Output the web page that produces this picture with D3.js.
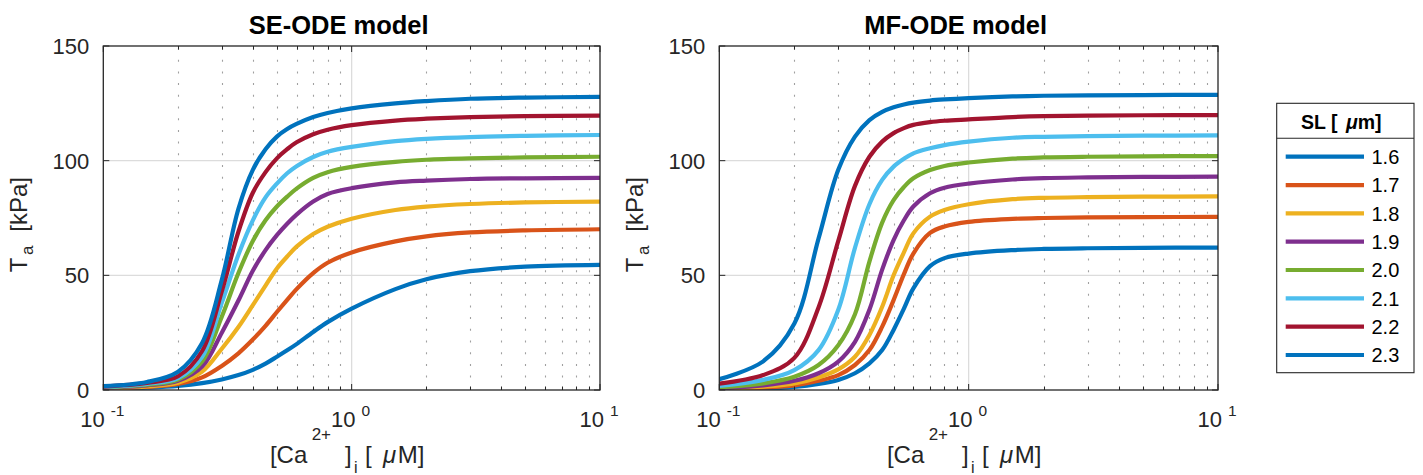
<!DOCTYPE html>
<html>
<head>
<meta charset="utf-8">
<script src="https://cdn.jsdelivr.net/npm/d3@7"></script>
<style>
  html, body { margin: 0; padding: 0; background: #fff; }
  svg { display: block; font-family: "Liberation Sans", Arial, Helvetica, sans-serif; }
</style>
</head>
<body>
<svg id="chart" width="1423" height="475"></svg>
<script>
// ---------- data ----------
const caValues = [0.1, 0.15, 0.2, 0.25, 0.3, 0.35, 0.4, 0.45, 0.5, 0.55, 0.6, 0.7, 0.8, 1, 1.5, 2, 3, 5, 10];
const slLabels = ["1.6", "1.7", "1.8", "1.9", "2.0", "2.1", "2.2", "2.3"];
const seriesColors = ["#0072BD", "#D95319", "#EDB120", "#7E2F8E", "#77AC30", "#4DBEEE", "#A2142F", "#0072BD"];
const panelTitles = ["SE-ODE model", "MF-ODE model"];
const yTicks = [0, 50, 100, 150];
const xMajorTicks = [0.1, 1, 10];
const xTickExponents = ["-1", "0", "1"];
const xMinorTicks = [0.2, 0.3, 0.4, 0.5, 0.6, 0.7, 0.8, 0.9, 2, 3, 4, 5, 6, 7, 8, 9];

// SE-ODE model, Ta [kPa] for each SL
const se16 = [0.3, 1.0, 1.8, 3.0, 4.6, 6.5, 8.8, 11.5, 14.5, 17.3, 20, 25.3, 29.6, 35.5, 44, 48.3, 51.8, 53.8, 54.6];
const se17 = [0.5, 1.3, 2.6, 5.5, 10.5, 16, 22, 28, 34, 39.3, 44, 51, 55.5, 60, 64.8, 67, 68.7, 69.6, 70.1];
const se18 = [0.7, 1.6, 3.2, 8, 18, 27.5, 37, 45.5, 53, 58.2, 62.5, 68, 71.2, 74.7, 78.5, 80, 81.1, 81.8, 82.1];
const se19 = [0.9, 2, 4, 10.2, 25, 39, 52, 61, 67.5, 72.5, 76.5, 82.2, 85.5, 88, 90.5, 91.3, 92, 92.3, 92.5];
const se20 = [1.1, 2.3, 4.6, 12.5, 32, 51, 65, 74, 80, 84.3, 87.8, 92.5, 95, 97.3, 99.5, 100.4, 101, 101.4, 101.7];
const se21 = [1.3, 2.7, 5.2, 14.5, 38, 59, 74, 84, 90, 94.5, 97.6, 101.6, 103.9, 106, 108.5, 109.5, 110.3, 110.8, 111.2];
const se22 = [1.5, 3.1, 6, 17, 43, 69, 86, 95, 101, 105, 108, 111.5, 113.5, 115.5, 117.5, 118.3, 119, 119.4, 119.6];
const se23 = [1.7, 3.5, 8, 20.5, 48, 79, 96, 105, 110.5, 113.8, 116, 119, 120.8, 122.8, 125, 126, 127, 127.5, 127.8];

// MF-ODE model, Ta [kPa] for each SL
const mf16 = [0.2, 0.6, 1.3, 2.6, 4.4, 7.3, 11.6, 17.4, 26.2, 35.5, 44.3, 54, 57.5, 59.5, 61, 61.5, 61.8, 62, 62.1];
const mf17 = [0.3, 1, 2, 4, 6.5, 10.9, 17.4, 27.6, 39.2, 50.5, 59.5, 68.5, 71.3, 73.3, 74.6, 75, 75.3, 75.4, 75.5];
const mf18 = [0.4, 1.5, 2.9, 5.5, 9, 14.5, 24, 36.3, 50, 60, 68.3, 75.6, 78.5, 81, 83.2, 83.8, 84.1, 84.3, 84.4];
const mf19 = [0.7, 2, 4, 7.3, 12.4, 21, 35, 52.5, 65.4, 74, 80, 85.8, 88.2, 90, 91.8, 92.4, 92.7, 92.9, 93];
const mf20 = [1.2, 2.9, 5.8, 10.9, 19.5, 33, 56, 73, 82.8, 88.5, 92.3, 95.9, 97.7, 99.2, 100.9, 101.4, 101.7, 101.9, 102];
const mf21 = [1.8, 4.4, 8.7, 17.4, 35, 62, 81, 91.6, 97.4, 100.8, 103.2, 105.4, 106.8, 108.3, 110, 110.4, 110.7, 110.9, 111];
const mf22 = [2.8, 6.5, 14, 36, 65, 89, 101.7, 108.3, 112, 114.2, 115.6, 116.8, 117.4, 118, 119, 119.4, 119.6, 119.8, 119.9];
const mf23 = [4.7, 12.5, 29, 66, 96, 110.5, 117.7, 121.3, 123.3, 124.5, 125.3, 126.2, 126.7, 127.3, 128, 128.3, 128.5, 128.6, 128.7];

const seSeries = [se16, se17, se18, se19, se20, se21, se22, se23];
const mfSeries = [mf16, mf17, mf18, mf19, mf20, mf21, mf22, mf23];

// ---------- drawing ----------
const svg = d3.select("#chart");
const axisColor = "#262626";
const plotTop = 46, plotBottom = 390;
const panels = [
  { left: 103.3, right: 600, title: panelTitles[0], series: seSeries },
  { left: 719.3, right: 1218, title: panelTitles[1], series: mfSeries }
];

panels.forEach((p, pi) => {
  const x = d3.scaleLog().domain([0.1, 10]).range([p.left, p.right]);
  const y = d3.scaleLinear().domain([0, 150]).range([plotBottom, plotTop]);
  const g = svg.append("g");
  const mid = x(1);
  const crisp = v => Math.round(v) + 0.5;

  // minor grid (dotted)
  g.selectAll(".minorgrid").data(xMinorTicks).enter().append("line")
    .attr("x1", d => crisp(x(d))).attr("x2", d => crisp(x(d)))
    .attr("y1", plotTop + 2).attr("y2", plotBottom)
    .attr("stroke", "#a0a0a0").attr("stroke-width", 1.1)
    .attr("stroke-dasharray", "2 9.7");

  // major grid
  g.selectAll(".xgrid").data([1]).enter().append("line")
    .attr("x1", d => x(d)).attr("x2", d => x(d))
    .attr("y1", plotTop).attr("y2", plotBottom)
    .attr("stroke", "#dcdcdc").attr("stroke-width", 1.3);
  g.selectAll(".ygrid").data([50, 100]).enter().append("line")
    .attr("x1", p.left).attr("x2", p.right)
    .attr("y1", d => y(d)).attr("y2", d => y(d))
    .attr("stroke", "#dcdcdc").attr("stroke-width", 1.3);

  // clip
  const clipId = "clip" + pi;
  svg.append("clipPath").attr("id", clipId).append("rect")
    .attr("x", p.left).attr("y", plotTop)
    .attr("width", p.right - p.left).attr("height", plotBottom - plotTop);

  const line = d3.line()
    .x((d, i) => x(caValues[i]))
    .y(d => y(d))
    .curve(d3.curveCatmullRom.alpha(0.5));

  g.append("g").attr("clip-path", `url(#${clipId})`)
    .selectAll("path").data(p.series).enter().append("path")
    .attr("d", d => line(d))
    .attr("fill", "none")
    .attr("stroke", (d, i) => seriesColors[i])
    .attr("stroke-width", 4.2)
    .attr("stroke-linejoin", "round");

  // ticks
  const tk = g.append("g").attr("stroke", axisColor).attr("stroke-width", 1);
  yTicks.forEach(t => {
    tk.append("line").attr("x1", p.left).attr("x2", p.left + 6).attr("y1", y(t)).attr("y2", y(t));
    tk.append("line").attr("x1", p.right).attr("x2", p.right - 6).attr("y1", y(t)).attr("y2", y(t));
  });
  xMajorTicks.forEach(t => {
    tk.append("line").attr("x1", x(t)).attr("x2", x(t)).attr("y1", plotBottom).attr("y2", plotBottom - 6);
    tk.append("line").attr("x1", x(t)).attr("x2", x(t)).attr("y1", plotTop).attr("y2", plotTop + 6);
  });
  xMinorTicks.forEach(t => {
    tk.append("line").attr("x1", crisp(x(t))).attr("x2", crisp(x(t))).attr("y1", plotBottom).attr("y2", plotBottom - 3.5);
    tk.append("line").attr("x1", crisp(x(t))).attr("x2", crisp(x(t))).attr("y1", plotTop).attr("y2", plotTop + 3.5);
  });

  // box
  g.append("rect").attr("x", p.left).attr("y", plotTop)
    .attr("width", p.right - p.left).attr("height", plotBottom - plotTop)
    .attr("fill", "none").attr("stroke", axisColor).attr("stroke-width", 1.3);

  // y tick labels
  g.selectAll(".ylab").data(yTicks).enter().append("text")
    .attr("x", p.left - 14).attr("y", d => y(d) + 8)
    .attr("text-anchor", "end").attr("font-size", 22).attr("fill", axisColor)
    .text(d => d);

  // x tick labels
  xMajorTicks.forEach((t, i) => {
    const tx = g.append("text").attr("x", x(t) - 1).attr("y", 426.7)
      .attr("text-anchor", "middle").attr("font-size", 22).attr("fill", axisColor);
    tx.append("tspan").text("10");
    tx.append("tspan").attr("dx", 6).attr("dy", -11).attr("font-size", 15.5).text(xTickExponents[i]);
  });

  // title
  g.append("text").attr("x", (p.left + p.right) / 2 - 13).attr("y", 34)
    .attr("text-anchor", "middle").attr("font-size", 25.5).attr("font-weight", "bold")
    .attr("fill", "#000").text(p.title);

  // x label
  const xl = g.append("text").attr("font-size", 24).attr("fill", axisColor);
  xl.append("tspan").attr("x", mid - 81.7).attr("y", 463.3).text("[Ca");
  xl.append("tspan").attr("x", mid - 40).attr("y", 440).attr("font-size", 17).text("2+");
  xl.append("tspan").attr("x", mid - 6.7).attr("y", 463.3).text("]");
  xl.append("tspan").attr("x", mid + 2.3).attr("y", 473).attr("font-size", 16).text("i");
  xl.append("tspan").attr("x", mid + 13.3).attr("y", 463.3).text("[");
  xl.append("tspan").attr("x", mid + 31.3).attr("y", 463.3).attr("font-style", "italic").text("μ");
  xl.append("tspan").attr("x", mid + 46).attr("y", 463.3).text("M]");

  // y label
  const ly = p.left - 76.3;
  const yl = g.append("text").attr("transform", `translate(${ly},0) rotate(-90)`)
    .attr("font-size", 24).attr("fill", axisColor);
  yl.append("tspan").attr("x", -272.3).attr("y", 0).text("T");
  yl.append("tspan").attr("x", -255).attr("y", 6).attr("font-size", 17).text("a");
  yl.append("tspan").attr("x", -231.7).attr("y", 0).text("[kPa]");
});

// ---------- legend ----------
const lg = svg.append("g");
const lgX = 1276.7, lgY = 103.3, lgW = 137.3, lgH = 269.4;
lg.append("rect").attr("x", lgX).attr("y", lgY).attr("width", lgW).attr("height", lgH)
  .attr("fill", "#fff").attr("stroke", axisColor).attr("stroke-width", 1.1);
lg.append("line").attr("x1", lgX).attr("x2", lgX + lgW).attr("y1", 138.3).attr("y2", 138.3)
  .attr("stroke", axisColor).attr("stroke-width", 1.1);
const hdr = lg.append("text").attr("x", lgX + lgW / 2 - 4).attr("y", 129.3)
  .attr("text-anchor", "middle").attr("font-size", 19.5).attr("font-weight", "bold").attr("fill", "#000");
hdr.append("tspan").text("SL [ ");
hdr.append("tspan").attr("dx", 3).attr("font-style", "italic").text("μ");
hdr.append("tspan").text("m]");

const entry = lg.selectAll(".entry").data(slLabels).enter().append("g")
  .attr("transform", (d, i) => `translate(0,${156.7 + i * 28.33})`);
entry.append("line").attr("x1", 1285.7).attr("x2", 1364).attr("y1", 0).attr("y2", 0)
  .attr("stroke", (d, i) => seriesColors[i]).attr("stroke-width", 4.2);
entry.append("text").attr("x", 1371.5).attr("y", 7.2)
  .attr("font-size", 20).attr("fill", "#000").text(d => d);
</script>
</body>
</html>
